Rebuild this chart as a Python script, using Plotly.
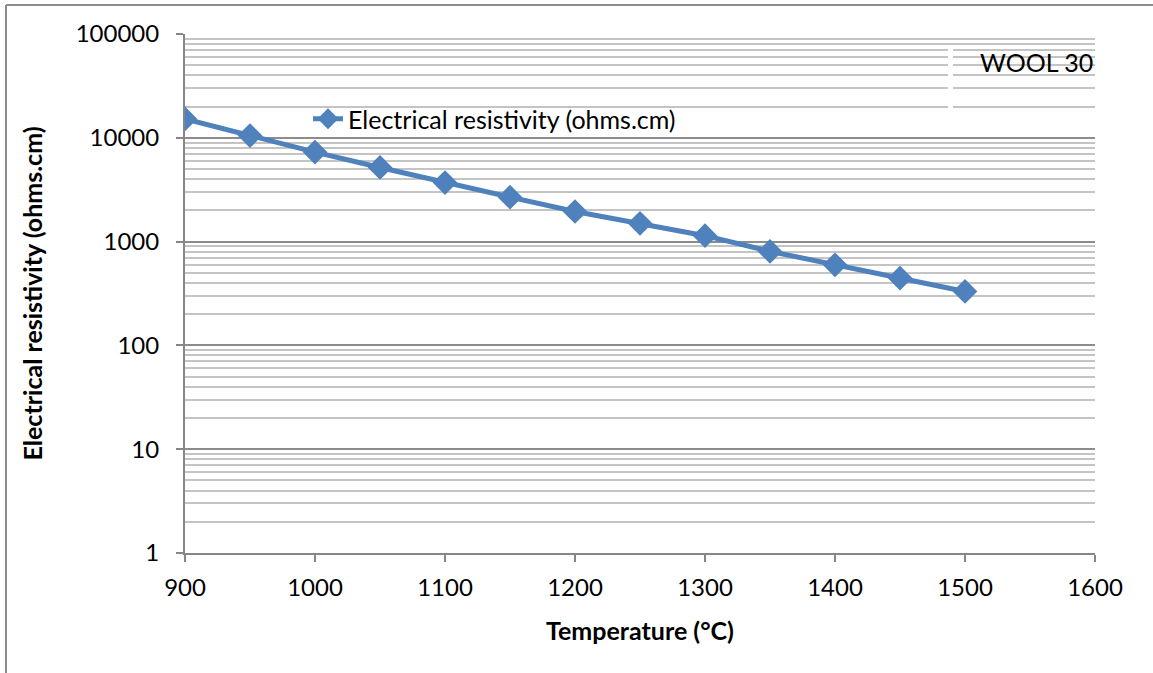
import plotly.graph_objects as go

temperature = [900, 950, 1000, 1050, 1100, 1150, 1200, 1250, 1300, 1350, 1400, 1450, 1500]
resistivity = [15200, 10500, 7280, 5180, 3700, 2680, 1950, 1500, 1140, 805, 598, 445, 331]
series_name = "Electrical resistivity (ohms.cm)"
x_ticks = [900, 1000, 1100, 1200, 1300, 1400, 1500, 1600]
y_ticks = [1, 10, 100, 1000, 10000, 100000]
y_tick_labels = ["1", "10", "100", "1000", "10000", "100000"]

W, H = 1153, 673
L, R, T, B = 185, 58, 34, 120
pw, ph = W - L - R, H - T - B

def px(x):
    return (x - L) / pw

def py(y):
    return (H - B - y) / ph

FONT = "Lato"
FS = 25
TFS = 24
BLUE = "#4F81BD"

fig = go.Figure()
fig.add_trace(go.Scatter(
    x=temperature, y=resistivity, name=series_name, mode="lines+markers",
    line=dict(color=BLUE, width=5),
    marker=dict(symbol="diamond", size=19, color=BLUE),
))

fig.update_layout(
    width=W, height=H,
    margin=dict(l=L, r=R, t=T, b=B),
    paper_bgcolor="white", plot_bgcolor="white",
    font=dict(family=FONT, size=FS, color="black"),
    showlegend=True,
    legend=dict(x=px(308), y=py(119), xanchor="left", yanchor="middle",
                bgcolor="rgba(0,0,0,0)", font=dict(family=FONT, size=FS, color="black"),
                itemwidth=30),
    xaxis=dict(
        range=[900, 1600], tickvals=x_ticks, ticks="outside", ticklen=7,
        tickcolor="#868686", tickwidth=1.5, tickfont=dict(size=TFS),
        showline=True, linecolor="#868686", linewidth=2, showgrid=False,
        zeroline=False, ticklabelstandoff=5,
        title=dict(text="<b>Temperature (°C)</b>", font=dict(family=FONT, size=FS), standoff=23),
    ),
    yaxis=dict(
        type="log", range=[0, 5], tickvals=y_ticks, ticktext=y_tick_labels,
        ticks="outside", ticklen=7, tickcolor="#868686", tickwidth=1.5, tickfont=dict(size=TFS),
        showline=True, linecolor="#868686", linewidth=2,
        showgrid=True, gridcolor="#8C8C8C", gridwidth=2, zeroline=False,
        ticklabelstandoff=12,
        minor=dict(showgrid=True, gridcolor="#C4C4C4", gridwidth=1.5, dtick="D1", ticks=""),
        title=dict(text="<b>Electrical resistivity (ohms.cm)</b>", font=dict(family=FONT, size=FS), standoff=26),
    ),
    annotations=[
        dict(text="WOOL 30", xref="paper", yref="paper", x=px(1095), y=py(62),
             xanchor="right", yanchor="middle", showarrow=False,
             font=dict(family=FONT, size=FS, color="black")),
    ],
    shapes=[
        dict(type="line", xref="paper", yref="paper", x0=px(6), x1=px(1160), y0=py(5), y1=py(5),
             line=dict(color="#8C8C8C", width=2)),
        dict(type="line", xref="paper", yref="paper", x0=px(6), x1=px(6), y0=py(5), y1=py(680),
             line=dict(color="#8C8C8C", width=2)),
        dict(type="rect", xref="paper", yref="paper", x0=px(948), x1=px(953), y0=py(108), y1=py(48),
             fillcolor="white", line=dict(width=0), layer="above"),
    ],
)

fig.write_html("out.html", config={"displayModeBar": False},
               post_script="document.body.style.margin='0';")
